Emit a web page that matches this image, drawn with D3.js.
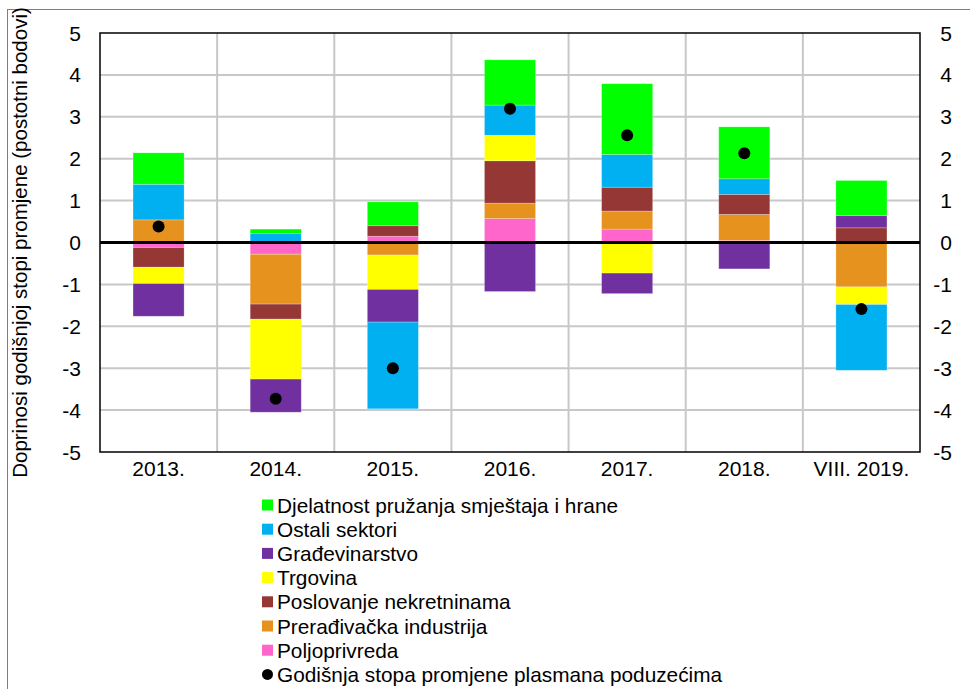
<!DOCTYPE html>
<html>
<head>
<meta charset="utf-8">
<script src="https://cdn.jsdelivr.net/npm/d3@7"></script>
<style>
  body { margin: 0; background: #fff; }
  svg text { font-family: Arial, "Liberation Sans", sans-serif; fill: #000; }
</style>
</head>
<body>
<svg id="chart" width="970" height="689"></svg>
<script>
var categories = ["2013.", "2014.", "2015.", "2016.", "2017.", "2018.", "VIII. 2019."];

// contributions, percentage points
var poljoprivreda   = [-0.12, -0.28,  0.15,  0.57,  0.32,  0.05,  0.00];
var preradjivacka   = [ 0.54, -1.19, -0.30,  0.37,  0.43,  0.62, -1.06];
var poslovanje      = [-0.47, -0.36,  0.25,  1.01,  0.57,  0.48,  0.35];
var trgovina        = [-0.39, -1.43, -0.82,  0.61, -0.73,  0.00, -0.42];
var gradjevinarstvo = [-0.78, -0.79, -0.78, -1.17, -0.49, -0.63,  0.29];
var ostali          = [ 0.85,  0.21, -2.07,  0.72,  0.78,  0.37, -1.57];
var djelatnost      = [ 0.75,  0.11,  0.57,  1.08,  1.69,  1.24,  0.84];
var stopa           = [ 0.38, -3.73, -3.00,  3.19,  2.56,  2.13, -1.59];

var yTicks = [5, 4, 3, 2, 1, 0, -1, -2, -3, -4, -5];

// stacking order bottom -> top
var series = [
  {key: "Poljoprivreda", values: poljoprivreda, color: "#ff66cc"},
  {key: "Prerađivačka industrija", values: preradjivacka, color: "#e5921e"},
  {key: "Poslovanje nekretninama", values: poslovanje, color: "#953735"},
  {key: "Trgovina", values: trgovina, color: "#ffff00"},
  {key: "Građevinarstvo", values: gradjevinarstvo, color: "#7030a0"},
  {key: "Ostali sektori", values: ostali, color: "#00b0f0"},
  {key: "Djelatnost pružanja smještaja i hrane", values: djelatnost, color: "#00ff00"}
];

var DrawChart = function(){
  var rows = categories.map(function(c, i) {
    var r = {cat: c};
    series.forEach(function(s) { r[s.key] = s.values[i]; });
    return r;
  });

  var svg = d3.select("#chart");
  var pLeft = 100, pRight = 920, pTop = 33, pBottom = 452;

  var x = d3.scaleBand().domain(categories).range([pLeft, pRight]).paddingInner(0.564).paddingOuter(0.282);
  var y = d3.scaleLinear().domain([-5, 5]).range([pBottom, pTop]);
  var step = x.step();

  // outer frame
  svg.append("rect")
      .attr("x", 7.5).attr("y", 9.5)
      .attr("width", 980).attr("height", 700)
      .attr("fill", "none").attr("stroke", "#7f7f7f").attr("stroke-width", 1);

  // gridlines
  svg.append("g").selectAll("line")
      .data(yTicks.filter(function(t) { return t !== 0 && t !== 5 && t !== -5; }))
      .enter().append("line")
      .attr("x1", pLeft).attr("x2", pRight)
      .attr("y1", function(d) { return y(d); }).attr("y2", function(d) { return y(d); })
      .attr("stroke", "#c8c8c8").attr("stroke-width", 2);

  svg.append("g").selectAll("line")
      .data(categories.slice(1))
      .enter().append("line")
      .attr("x1", function(d) { return x(d) - step * x.paddingInner() / 2; })
      .attr("x2", function(d) { return x(d) - step * x.paddingInner() / 2; })
      .attr("y1", pTop).attr("y2", pBottom)
      .attr("stroke", "#c8c8c8").attr("stroke-width", 2);

  // stacked bars
  var stack = d3.stack()
      .keys(series.map(function(s) { return s.key; }))
      .offset(d3.stackOffsetDiverging);
  var stacked = stack(rows);

  svg.append("g").selectAll("g")
      .data(stacked)
      .enter().append("g")
      .attr("fill", function(d, i) { return series[i].color; })
      .selectAll("rect")
      .data(function(d) { return d; })
      .enter().append("rect")
      .attr("x", function(d) { return x(d.data.cat); })
      .attr("width", x.bandwidth())
      .attr("y", function(d) { return y(d[1]); })
      .attr("height", function(d) { return Math.max(0, y(d[0]) - y(d[1])); })
      .attr("stroke", "#ffffff").attr("stroke-opacity", 0.35).attr("stroke-width", 0.7);

  // zero line
  svg.append("line")
      .attr("x1", pLeft).attr("x2", pRight)
      .attr("y1", y(0)).attr("y2", y(0))
      .attr("stroke", "#000").attr("stroke-width", 3);

  // plot border
  svg.append("rect")
      .attr("x", pLeft).attr("y", pTop)
      .attr("width", pRight - pLeft).attr("height", pBottom - pTop)
      .attr("fill", "none").attr("stroke", "#000").attr("stroke-width", 1.5);

  // dots
  svg.append("g").selectAll("circle")
      .data(stopa)
      .enter().append("circle")
      .attr("cx", function(d, i) { return x(categories[i]) + x.bandwidth() / 2; })
      .attr("cy", function(d) { return y(d); })
      .attr("r", 6)
      .attr("fill", "#000");

  // axes labels
  var yl = svg.append("g").selectAll("text")
      .data(yTicks).enter();
  yl.append("text")
      .attr("x", 81).attr("y", function(d) { return y(d); })
      .attr("dy", "0.36em").attr("text-anchor", "end")
      .style("font-size", "21px")
      .text(function(d) { return d; });
  yl.append("text")
      .attr("x", 952).attr("y", function(d) { return y(d); })
      .attr("dy", "0.36em").attr("text-anchor", "end")
      .style("font-size", "21px")
      .text(function(d) { return d; });

  svg.append("g").selectAll("text")
      .data(categories).enter().append("text")
      .attr("x", function(d) { return x(d) + x.bandwidth() / 2; })
      .attr("y", 476)
      .attr("text-anchor", "middle")
      .style("font-size", "21px")
      .text(function(d) { return d; });

  svg.append("text")
      .attr("transform", "translate(27," + y(0) + ") rotate(-90)")
      .attr("text-anchor", "middle")
      .style("font-size", "20.5px")
      .text("Doprinosi godišnjoj stopi promjene (postotni bodovi)");

  // legend
  var legendItems = series.slice().reverse().map(function(s) { return {key: s.key, color: s.color, dot: false}; });
  legendItems.push({key: "Godišnja stopa promjene plasmana poduzećima", color: "#000", dot: true});

  var lg = svg.append("g").selectAll("g")
      .data(legendItems).enter().append("g")
      .attr("transform", function(d, i) { return "translate(262," + (505 + i * 24.2) + ")"; });
  lg.filter(function(d) { return !d.dot; }).append("rect")
      .attr("x", 0).attr("y", -5.5).attr("width", 11).attr("height", 11)
      .attr("fill", function(d) { return d.color; });
  lg.filter(function(d) { return d.dot; }).append("circle")
      .attr("cx", 5.5).attr("cy", 0).attr("r", 5.5)
      .attr("fill", "#000");
  lg.append("text")
      .attr("x", 15).attr("y", 0).attr("dy", "0.36em")
      .style("font-size", "20.8px")
      .text(function(d) { return d.key; });
};

DrawChart();
</script>
</body>
</html>
